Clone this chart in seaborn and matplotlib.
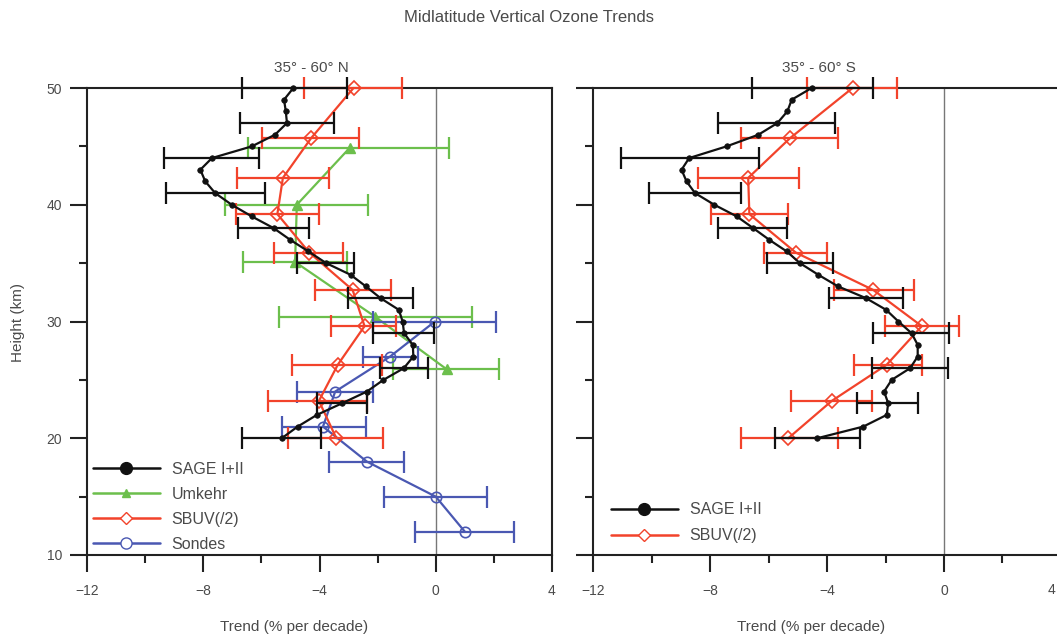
import numpy as np
import pandas as pd
import matplotlib
matplotlib.use("Agg")
import matplotlib.pyplot as plt
import seaborn as sns
from matplotlib.lines import Line2D
from matplotlib.ticker import MultipleLocator

# ---------------- data ----------------
sage_km = [50, 49, 48, 47, 46, 45, 44, 43, 42, 41, 40, 39, 38, 37, 36, 35,
           34, 33, 32, 31, 30, 29, 28, 27, 26, 25, 24, 23, 22, 21, 20]
sage_n = [-4.90, -5.22, -5.16, -5.12, -5.53, -6.33, -7.70, -8.10, -7.93, -7.59,
          -7.02, -6.33, -5.58, -5.01, -4.38, -3.77, -2.93, -2.40, -1.90, -1.27,
          -1.14, -1.09, -0.79, -0.77, -1.10, -1.80, -2.37, -3.22, -4.09, -4.75, -5.30]
sage_s = [-4.53, -5.21, -5.36, -5.70, -6.35, -7.44, -8.72, -8.98, -8.81, -8.52,
          -7.86, -7.09, -6.53, -5.98, -5.38, -4.93, -4.30, -3.62, -2.67, -1.98,
          -1.56, -1.11, -0.90, -0.90, -1.16, -1.79, -2.05, -1.91, -1.96, -2.76, -4.34]
sage_bar_km = [50, 47, 44, 41, 38, 35, 32, 29, 26, 23, 20]
sage_n_lo = [-6.67, -6.75, -9.34, -9.27, -6.82, -4.78, -3.03, -2.15, -1.92, -4.09, -6.67]
sage_n_hi = [-3.06, -3.50, -6.07, -5.89, -4.35, -2.80, -0.79, -0.06, -0.25, -2.35, -3.95]
sage_s_lo = [-6.58, -7.75, -11.05, -10.09, -7.72, -6.07, -3.94, -2.42, -2.47, -2.97, -5.78]
sage_s_hi = [-2.44, -3.73, -6.33, -6.96, -5.36, -3.79, -1.41, 0.17, 0.13, -0.90, -2.87]

sbuv_km = [50.0, 45.7, 42.3, 39.2, 35.9, 32.7, 29.6, 26.3, 23.2, 20.0]
sbuv_n = [-2.83, -4.29, -5.26, -5.45, -4.35, -2.86, -2.45, -3.37, -4.02, -3.42]
sbuv_n_lo = [-4.53, -5.98, -6.84, -6.87, -5.55, -4.15, -3.61, -4.95, -5.76, -5.09]
sbuv_n_hi = [-1.17, -2.63, -3.69, -4.01, -3.18, -1.54, -1.37, -1.86, -2.35, -1.80]
sbuv_s = [-3.13, -5.27, -6.70, -6.66, -5.07, -2.42, -0.76, -1.96, -3.84, -5.33]
sbuv_s_lo = [-4.70, -6.96, -8.41, -7.98, -6.16, -3.76, -2.02, -3.08, -5.25, -6.95]
sbuv_s_hi = [-1.60, -3.62, -4.95, -5.35, -4.01, -1.03, 0.52, -0.76, -2.45, -3.64]

umk_km = [44.9, 40.0, 35.1, 30.4, 25.9]
umk_n = [-2.95, -4.78, -4.84, -2.08, 0.38]
umk_n_lo = [-6.47, -7.25, -6.62, -5.39, -1.46]
umk_n_hi = [0.47, -2.32, -3.06, 1.26, 2.19]

sonde_km = [30, 27, 24, 21, 18, 15, 12]
sonde_n = [-0.03, -1.57, -3.46, -3.88, -2.37, 0.00, 1.00]
sonde_n_lo = [-2.15, -2.51, -4.76, -5.30, -3.66, -1.77, -0.71]
sonde_n_hi = [2.07, -0.60, -2.15, -2.40, -1.09, 1.75, 2.69]

x_ticks = [-12, -8, -4, 0, 4]
x_tick_labels = ["\u221212", "\u22128", "\u22124", "0", "4"]
y_ticks = [10, 20, 30, 40, 50]
title = "Midlatitude Vertical Ozone Trends"
panel_titles = ["35° - 60° N", "35° - 60° S"]
xlabel = "Trend (% per decade)"
ylabel = "Height (km)"
labels_n = ["SAGE I+II", "Umkehr", "SBUV(/2)", "Sondes"]
labels_s = ["SAGE I+II", "SBUV(/2)"]

# ---------------- style ----------------
C_SAGE = "#111111"
C_UMK = "#6cbf4c"
C_SBUV = "#f2432b"
C_SONDE = "#4a58b2"
TXT = "#4a4a4a"
AX = "#222222"

sns.set_style("ticks")
plt.rcParams['font.family'] = ['Liberation Sans', 'DejaVu Sans']

W, H = 1057, 635
fig = plt.figure(figsize=(W / 100, H / 100), dpi=100)
axL = fig.add_axes([87 / W, 80 / H, 465 / W, 467 / H])
axR = fig.add_axes([593.3 / W, 80 / H, 467.6 / W, 467 / H])


def errbars(ax, km, lo, hi, color, z):
    lo = np.asarray(lo)
    hi = np.asarray(hi)
    centre = (lo + hi) / 2.0
    cont = ax.errorbar(centre, km, xerr=[centre - lo, hi - centre], fmt='none',
                       ecolor=color, elinewidth=1.6, capsize=8, capthick=1.6,
                       zorder=z)
    for a in cont.get_children():
        a.set_clip_on(False)


def profile(ax, km, vals, color, marker, ms, mfc, mew, z):
    df = pd.DataFrame({"trend": vals, "km": km})
    sns.lineplot(data=df, x="trend", y="km", ax=ax, sort=False, estimator=None,
                 color=color, linewidth=1.6, marker=marker, markersize=ms,
                 markerfacecolor=mfc, markeredgecolor=color, markeredgewidth=mew,
                 clip_on=False, zorder=z, legend=False)


for ax in (axL, axR):
    ax.axvline(0, color="#777777", lw=1.0, zorder=1)

# left panel
errbars(axL, umk_km, umk_n_lo, umk_n_hi, C_UMK, 3)
profile(axL, umk_km, umk_n, C_UMK, '^', 7, C_UMK, 1.0, 3.5)
errbars(axL, sonde_km, sonde_n_lo, sonde_n_hi, C_SONDE, 3.6)
profile(axL, sonde_km, sonde_n, C_SONDE, 'o', 7.5, 'none', 1.2, 3.8)
errbars(axL, sbuv_km, sbuv_n_lo, sbuv_n_hi, C_SBUV, 4)
profile(axL, sbuv_km, sbuv_n, C_SBUV, 'D', 7, 'none', 1.2, 4.5)
errbars(axL, sage_bar_km, sage_n_lo, sage_n_hi, C_SAGE, 5)
profile(axL, sage_km, sage_n, C_SAGE, 'o', 4, C_SAGE, 0.5, 5.5)

# right panel
errbars(axR, sbuv_km, sbuv_s_lo, sbuv_s_hi, C_SBUV, 4)
profile(axR, sbuv_km, sbuv_s, C_SBUV, 'D', 7, 'none', 1.2, 4.5)
errbars(axR, sage_bar_km, sage_s_lo, sage_s_hi, C_SAGE, 5)
profile(axR, sage_km, sage_s, C_SAGE, 'o', 4, C_SAGE, 0.5, 5.5)

for ax in (axL, axR):
    ax.set_xlim(-12, 4)
    ax.set_ylim(10, 50)
    ax.set_xticks(x_ticks)
    ax.xaxis.set_minor_locator(MultipleLocator(2))
    ax.set_yticks(y_ticks)
    ax.yaxis.set_minor_locator(MultipleLocator(5))
    ax.tick_params(which='major', direction='out', length=12, width=1.5,
                   color=AX, labelsize=10, labelcolor=TXT)
    ax.tick_params(axis='x', which='major', pad=9)
    ax.tick_params(axis='y', which='major', pad=6)
    ax.tick_params(which='minor', direction='out', length=6, width=1.5, color=AX)
    for s in ax.spines.values():
        s.set_visible(True)
        s.set_linewidth(1.5)
        s.set_color(AX)
    ax.set_xlabel("")
    ax.set_ylabel("")

axL.set_xticklabels(x_tick_labels)
axL.set_yticklabels([str(v) for v in y_ticks])
axR.set_yticklabels([])
# the right panel runs past the figure edge; its last label sits at the edge
axR.set_xticklabels(x_tick_labels[:-1] + [""])
fig.text(1055 / W, 1 - 590 / H, x_tick_labels[-1], ha='right', va='center',
         fontsize=10, color=TXT)

# legends
hL = [Line2D([0], [0], color=C_SAGE, lw=1.8, marker='o', ms=8.5, mfc=C_SAGE, mec=C_SAGE),
      Line2D([0], [0], color=C_UMK, lw=1.8, marker='^', ms=5.5, mfc=C_UMK, mec=C_UMK),
      Line2D([0], [0], color=C_SBUV, lw=1.8, marker='D', ms=6, mfc='white', mec=C_SBUV),
      Line2D([0], [0], color=C_SONDE, lw=1.8, marker='o', ms=8, mfc='white', mec=C_SONDE)]
legL = axL.legend(hL, labels_n, loc='lower left',
                  bbox_to_anchor=(0.0, -0.005), frameon=False, fontsize=11.5,
                  handlelength=4.2, handletextpad=0.75, labelspacing=0.62,
                  borderaxespad=0.15, borderpad=0.2)
for t in legL.get_texts():
    t.set_color(TXT)
hR = [hL[0], hL[2]]
legR = axR.legend(hR, labels_s, loc='lower left',
                  bbox_to_anchor=(0.025, 0.013), frameon=False, fontsize=11.5,
                  handlelength=4.2, handletextpad=0.75, labelspacing=0.7,
                  borderaxespad=0.15, borderpad=0.2)
for t in legR.get_texts():
    t.set_color(TXT)

# panel titles
for ax, t in zip((axL, axR), panel_titles):
    ax.text(0.483, 1 + 20 / 467, t, transform=ax.transAxes, ha='center',
            va='center', fontsize=11, color=TXT)

# axis labels
axL.text((294.5 - 87) / 465, (555 - 627) / 467, xlabel, transform=axL.transAxes,
         ha='center', va='center', fontsize=11, color=TXT)
axR.text((811 - 593.3) / 467.6, (555 - 627) / 467, xlabel, transform=axR.transAxes,
         ha='center', va='center', fontsize=11, color=TXT)
axL.text((18 - 87) / 465, (555 - 322) / 467, ylabel, transform=axL.transAxes,
         ha='center', va='center', rotation=90, fontsize=11, color=TXT)

fig.text(0.5, 1 - 18 / H, title, ha='center', va='center', fontsize=12, color=TXT)

fig.savefig("out.png", dpi=100)
